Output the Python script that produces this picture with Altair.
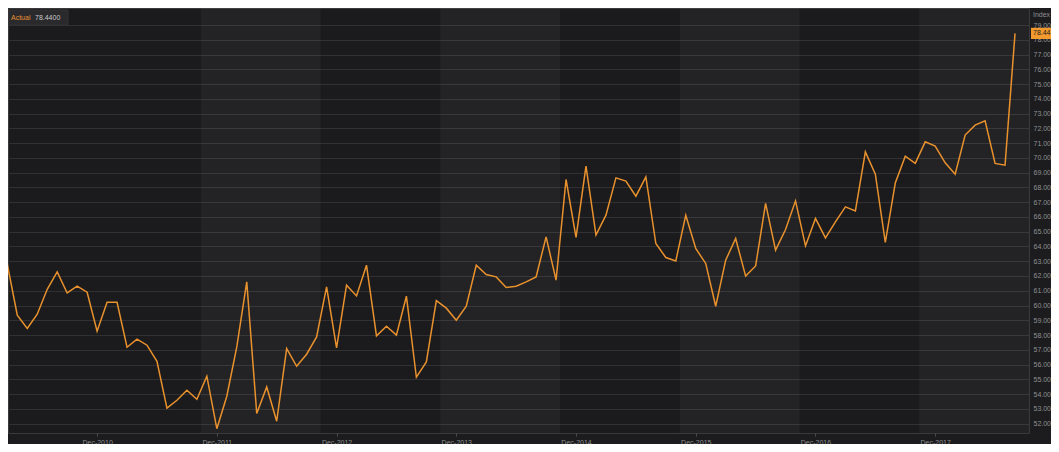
import altair as alt
import pandas as pd

# Monthly readings, Mar-2010 .. Aug-2018
months = [d.strftime("%Y-%m") for d in pd.date_range("2010-03-01", periods=102, freq="MS")]
values = [62.80, 59.34, 58.44, 59.41, 61.10, 62.28, 60.85, 61.31, 60.90, 58.26,
          60.22, 60.22, 57.17, 57.72, 57.31, 56.22, 53.04, 53.58, 54.26, 53.65,
          55.21, 51.65, 53.85, 57.19, 61.60, 52.68, 54.48, 52.16, 57.08, 55.88,
          56.70, 57.87, 61.26, 57.13, 61.38, 60.65, 62.73, 57.94, 58.60, 57.99,
          60.63, 55.14, 56.18, 60.33, 59.82, 59.00, 59.95, 62.73, 62.10, 61.94,
          61.22, 61.31, 61.60, 61.94, 64.65, 61.72, 68.54, 64.61, 69.44, 64.77,
          66.12, 68.65, 68.43, 67.41, 68.72, 64.20, 63.25, 63.02, 66.12, 63.86,
          62.85, 59.95, 63.07, 64.54, 61.99, 62.68, 66.92, 63.75, 65.15, 67.09,
          64.04, 65.90, 64.58, 65.67, 66.68, 66.41, 70.41, 68.90, 64.27, 68.31,
          70.12, 69.63, 71.09, 70.80, 69.67, 68.90, 71.55, 72.22, 72.52, 69.63,
          69.51, 78.44]

tick_labels = ["Dec-2010", "Dec-2011", "Dec-2012", "Dec-2013",
               "Dec-2014", "Dec-2015", "Dec-2016", "Dec-2017"]
tick_months = [months.index(m) for m in
               ["2010-12", "2011-12", "2012-12", "2013-12",
                "2014-12", "2015-12", "2016-12", "2017-12"]]
y_ticks = list(range(52, 80))

# lighter background bands (in month-index units)
band_start = [19.4, 43.4, 67.4, 91.4]
band_end = [31.4, 55.4, 79.4, 110.0]

series_name = "Actual"
last_value = values[-1]

df = pd.DataFrame({"k": list(range(len(values))), "month": months, "v": values})
bands = pd.DataFrame({"s": band_start, "e": band_end})
last = pd.DataFrame({"v": [last_value], "top": [last_value + 0.38],
                     "bot": [last_value - 0.38], "lbl": [f"{last_value:.2f}"]})
one = pd.DataFrame({"a": [0]})

W, H = 1021, 425
ORANGE = "#E8912D"
LABEL = "#8f8f92"
FONT = "Liberation Sans"

label_expr = "[" + ",".join(f"'{t}'" for t in tick_labels) + "][indexof(" + \
    "[" + ",".join(str(t) for t in tick_months) + "], datum.value)]"

xscale = alt.Scale(domain=[0.07, 102.4], nice=False, zero=False)
yscale = alt.Scale(domain=[51.36, 80.16], nice=False, zero=False)

band_layer = alt.Chart(bands).mark_rect(fill="#ffffff", opacity=0.04, clip=True).encode(
    x=alt.X("s:Q", scale=xscale),
    x2="e:Q",
    y=alt.value(0),
    y2=alt.value(H),
)

line = alt.Chart(df).mark_line(color=ORANGE, strokeWidth=1.5).encode(
    x=alt.X("k:Q", scale=xscale,
            axis=alt.Axis(values=tick_months, labelExpr=label_expr, title=None,
                          tickCount=20, grid=False, domain=False, ticks=True, tickSize=3,
                          tickColor="#4a4a4c", labelPadding=2, labelFontSize=7,
                          labelColor=LABEL, labelFont=FONT, labelOverlap=False)),
    y=alt.Y("v:Q", scale=yscale,
            axis=alt.Axis(orient="right", values=y_ticks, tickCount=40, format=".2f",
                          title=None, grid=True, gridColor="#313133", gridWidth=1,
                          ticks=False, domain=False, labelPadding=4,
                          labelFontSize=7, labelColor=LABEL, labelFont=FONT,
                          labelAlign="left", labelBaseline="middle",
                          labelOverlap=False, labelFlush=False)),
)

hl_box = alt.Chart(last).mark_rect(fill="#F39A2E").encode(
    x=alt.value(W + 2), x2=alt.value(W + 30),
    y=alt.Y("top:Q", scale=yscale), y2="bot:Q",
)
hl_text = alt.Chart(last).mark_text(align="left", baseline="middle", fontSize=7,
                                    font=FONT, color="#1a1a1a").encode(
    x=alt.value(W + 4), y=alt.Y("v:Q", scale=yscale), text="lbl:N",
)

legend_box = alt.Chart(one).mark_rect(fill="#2a2a2d", stroke="#333336").encode(
    x=alt.value(1), x2=alt.value(60), y=alt.value(2), y2=alt.value(17),
)
legend_name = alt.Chart(one).mark_text(text=series_name, align="left", baseline="middle",
                                       fontSize=7, font=FONT, color=ORANGE).encode(
    x=alt.value(3), y=alt.value(9.5),
)
legend_val = alt.Chart(one).mark_text(text=f"{last_value:.4f}", align="left",
                                      baseline="middle", fontSize=7, font=FONT,
                                      color="#c8c8c8").encode(
    x=alt.value(27), y=alt.value(9.5),
)
index_title = alt.Chart(one).mark_text(text="Index", align="left", baseline="middle",
                                       fontSize=7, font=FONT, color=LABEL).encode(
    x=alt.value(W + 4), y=alt.value(7),
)

chart = alt.layer(band_layer, line, hl_box, hl_text, legend_box, legend_name,
                  legend_val, index_title).properties(
    width=W, height=H,
    autosize=alt.AutoSizeParams(type="none"),
    padding={"left": 0, "top": 0, "right": 22, "bottom": 11},
    background="#1c1c1e",
).configure_view(fill="#1b1b1d", stroke="#3a3a3c", strokeWidth=1)

chart.save("out.html", embed_options={"renderer": "svg", "actions": False})
